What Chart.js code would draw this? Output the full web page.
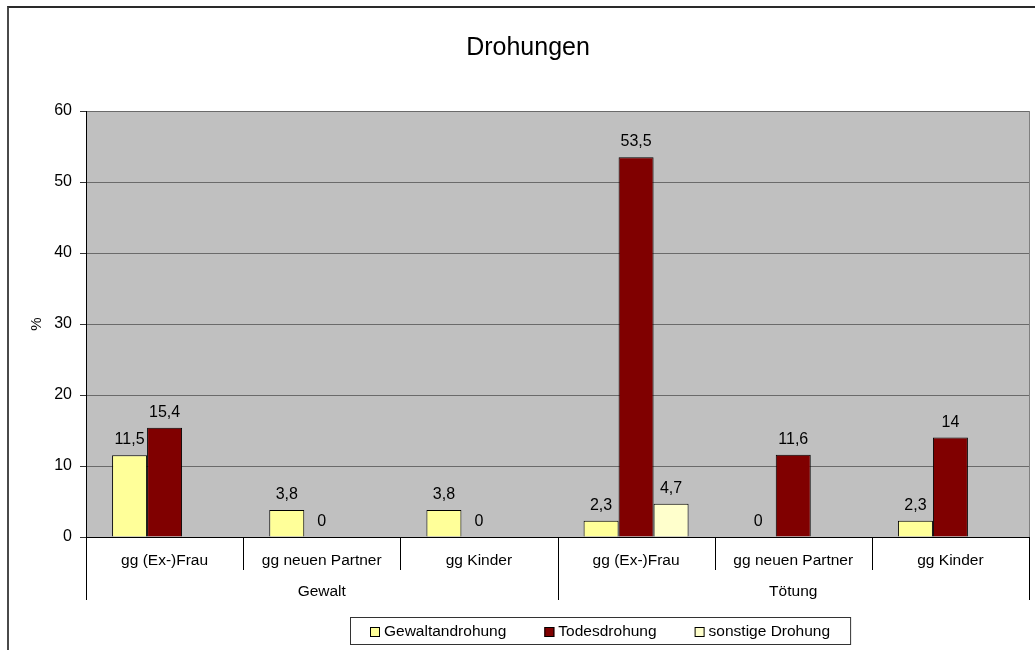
<!DOCTYPE html>
<html>
<head>
<meta charset="utf-8">
<title>Drohungen</title>
<script src="https://cdn.jsdelivr.net/npm/chart.js@4.4.1/dist/chart.umd.min.js"></script>
<style>
  html, body { margin: 0; padding: 0; background: #fff; overflow: hidden; }
  #frame { position: absolute; left: 7px; top: 6px; width: 1100px; height: 700px;
           border-left: 2px solid #4a4a4a; border-top: 2px solid #2a2a2a; }
  #chart { position: absolute; left: 0; top: 0; }
</style>
</head>
<body>
<div id="frame"></div>
<canvas id="chart" width="1035" height="650"></canvas>
<script>
// -- data ---------------------------------------------------------------
const categories = ["gg (Ex-)Frau", "gg neuen Partner", "gg Kinder",
                    "gg (Ex-)Frau", "gg neuen Partner", "gg Kinder"];
const groups = ["Gewalt", "Tötung"];
const groupSize = 3;
const seriesNames = ["Gewaltandrohung", "Todesdrohung", "sonstige Drohung"];
const gewaltandrohung = [11.5, 3.8, 3.8, 2.3, 0, 2.3];
const todesdrohung = [15.4, 0, 0, 53.5, 11.6, 14];
const sonstigeDrohung = [null, null, null, 4.7, null, null];
const yMin = 0, yMax = 60, yStep = 10;

const colors = ["#FFFF99", "#800000", "#FFFFCC"];
const FONT = "Arial, 'Liberation Sans', sans-serif";

const fmt = (v) => String(v).replace(".", ",");

// -- custom drawing -----------------------------------------------------
const decorations = {
  id: "decorations",
  beforeDraw(chart) {
    const { ctx, chartArea: a } = chart;
    ctx.save();
    ctx.fillStyle = "#C0C0C0";
    ctx.fillRect(a.left, a.top, a.right - a.left, a.bottom - a.top);
    ctx.restore();
  },
  afterDraw(chart) {
    const { ctx, chartArea: a } = chart;
    const x = chart.scales.x;
    const half = (x.getPixelForValue(1) - x.getPixelForValue(0)) / 2;
    ctx.save();

    // right border of plot area
    ctx.strokeStyle = "#808080";
    ctx.lineWidth = 1;
    ctx.beginPath();
    ctx.moveTo(Math.round(a.right) + 0.5, a.top);
    ctx.lineTo(Math.round(a.right) + 0.5, a.bottom);
    ctx.stroke();

    // category / group separators
    ctx.strokeStyle = "#000";
    for (let i = 0; i <= categories.length; i++) {
      const px = Math.round(x.getPixelForValue(i) - half) + 0.5;
      const isGroup = i % groupSize === 0;
      ctx.beginPath();
      ctx.moveTo(px, a.bottom);
      ctx.lineTo(px, a.bottom + (isGroup ? 63 : 33));
      ctx.stroke();
    }

    // group labels
    ctx.fillStyle = "#000";
    ctx.font = "15.5px " + FONT;
    ctx.textAlign = "center";
    ctx.textBaseline = "middle";
    groups.forEach((g, gi) => {
      const l = x.getPixelForValue(gi * groupSize) - half;
      const r = x.getPixelForValue(gi * groupSize + groupSize - 1) + half;
      ctx.fillText(g, (l + r) / 2, a.bottom + 55);
    });

    // value labels
    ctx.font = "16px " + FONT;
    ctx.textBaseline = "alphabetic";
    chart.data.datasets.forEach((ds, di) => {
      const meta = chart.getDatasetMeta(di);
      meta.data.forEach((bar, i) => {
        const v = ds.data[i];
        if (v === null || v === undefined) return;
        ctx.fillText(fmt(v), bar.x, bar.y - 11);
      });
    });

    // title
    ctx.font = "25px " + FONT;
    ctx.textBaseline = "middle";
    ctx.fillText("Drohungen", 528, 48);

    // y axis title
    ctx.save();
    ctx.font = "15px " + FONT;
    ctx.translate(37, (a.top + a.bottom) / 2);
    ctx.rotate(-Math.PI / 2);
    ctx.fillText("%", 0, 0);
    ctx.restore();

    // legend
    ctx.font = "15.5px " + FONT;
    ctx.textAlign = "left";
    const sq = 10, gapText = 4, gapItem = 38, pad = 20;
    const widths = seriesNames.map((n) => ctx.measureText(n).width);
    const content = widths.reduce((s, w) => s + sq + gapText + w, 0) + gapItem * (seriesNames.length - 1);
    const boxW = content + pad * 2;
    const boxL = Math.round(600 - boxW / 2);
    const boxT = 617, boxH = 27;
    ctx.strokeStyle = "#333";
    ctx.strokeRect(boxL + 0.5, boxT + 0.5, boxW, boxH);
    let cx = boxL + pad;
    const cy = boxT + boxH / 2 + 1;
    seriesNames.forEach((n, i) => {
      ctx.fillStyle = colors[i];
      ctx.fillRect(cx, Math.round(cy - sq / 2), sq, sq);
      ctx.strokeStyle = "#000";
      ctx.strokeRect(cx + 0.5, Math.round(cy - sq / 2) + 0.5, sq - 1, sq - 1);
      ctx.fillStyle = "#000";
      ctx.fillText(n, cx + sq + gapText, cy);
      cx += sq + gapText + widths[i] + gapItem;
    });

    ctx.restore();
  },
};

// -- chart --------------------------------------------------------------
const seriesData = [gewaltandrohung, todesdrohung, sonstigeDrohung];

new Chart(document.getElementById("chart"), {
  type: "bar",
  data: {
    labels: categories,
    datasets: seriesNames.map((name, i) => ({
      label: name,
      data: seriesData[i],
      backgroundColor: colors[i],
      borderColor: "#000",
      borderWidth: 1,
      categoryPercentage: 0.668,
      barPercentage: 1.0,
    })),
  },
  options: {
    responsive: false,
    animation: false,
    layout: { padding: { top: 111, right: 6, bottom: 0, left: 0 } },
    plugins: {
      legend: { display: false },
      title: { display: false },
      tooltip: { enabled: false },
    },
    scales: {
      x: {
        grid: { display: true, drawOnChartArea: false, drawTicks: false, offset: true },
        border: { display: true, color: "#000", width: 1 },
        ticks: { color: "#000", font: { family: FONT, size: 15.5 }, padding: 14, maxRotation: 0, autoSkip: false },
        afterFit: (scale) => { scale.height = 113; },
      },
      y: {
        min: yMin,
        max: yMax,
        ticks: { stepSize: yStep, color: "#000", font: { family: FONT, size: 16 }, padding: 8 },
        grid: { color: "#6a6a6a", tickColor: "#333", tickLength: 6 },
        border: { display: true, color: "#000", width: 1 },
        afterFit: (scale) => { scale.width = 86; },
      },
    },
  },
  plugins: [decorations],
});
</script>
</body>
</html>
